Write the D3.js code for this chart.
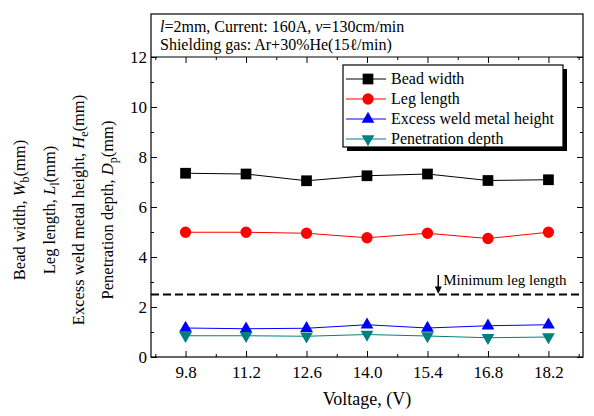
<!DOCTYPE html>
<html>
<head>
<meta charset="utf-8">
<script src="https://cdn.jsdelivr.net/npm/d3@7/dist/d3.min.js"></script>
<style>
html,body{margin:0;padding:0;background:#fff;}
svg{display:block;font-family:"Liberation Serif","Times New Roman",serif;}
</style>
</head>
<body>
<svg id="chart" width="594" height="416"></svg>
<script>
const voltages = [9.8, 11.2, 12.6, 14.0, 15.4, 16.8, 18.2];
const beadWidth = [7.35, 7.32, 7.05, 7.25, 7.32, 7.06, 7.09];
const legLength = [4.99, 4.99, 4.95, 4.77, 4.95, 4.74, 4.99];
const excessHeight = [1.16, 1.13, 1.15, 1.29, 1.16, 1.25, 1.29];
const penetration = [0.85, 0.85, 0.83, 0.90, 0.84, 0.77, 0.80];
const minLegLength = 2.5;
const xTicks = [9.8, 11.2, 12.6, 14.0, 15.4, 16.8, 18.2];
const xMinorTicks = [9.1, 10.5, 11.9, 13.3, 14.7, 16.1, 17.5, 18.9];
const yTicks = [0, 2, 4, 6, 8, 10, 12];
const yMinorTicks = [1, 3, 5, 7, 9, 11];
const seriesNames = ["Bead width", "Leg length", "Excess weld metal height", "Penetration depth"];

const svg = d3.select("#chart");
const L = 151, R = 583, T = 57, B = 357, HT = 14;
const x = d3.scaleLinear().domain([9, 19]).range([L, R]);
const y = d3.scaleLinear().domain([0, 12]).range([B, T]);

// header box + frame
svg.append("rect").attr("x", L).attr("y", HT).attr("width", R - L).attr("height", B - HT)
  .attr("fill", "none").attr("stroke", "#000").attr("stroke-width", 1.2);
svg.append("line").attr("x1", L).attr("x2", R).attr("y1", T).attr("y2", T)
  .attr("stroke", "#000").attr("stroke-width", 1.2);

const hdr = svg.append("g").attr("font-size", 16).attr("fill", "#000");
const h1 = hdr.append("text").attr("x", 160).attr("y", 32);
h1.append("tspan").attr("font-style", "italic").text("l");
h1.append("tspan").text("=2mm, Current: 160A, ");
h1.append("tspan").attr("font-style", "italic").text("v");
h1.append("tspan").text("=130cm/min");
hdr.append("text").attr("x", 160).attr("y", 50).text("Shielding gas: Ar+30%He(15\u2113/min)");

// axes
function styleAxis(g) {
  g.select(".domain").remove();
  g.selectAll(".tick line").attr("stroke", "#000").attr("stroke-width", 1);
  g.selectAll(".tick text").attr("font-family", "Liberation Serif").attr("font-size", 17).attr("fill", "#000");
}
svg.append("g").attr("transform", `translate(0,${B})`)
  .call(d3.axisBottom(x).tickValues(xTicks).tickFormat(d3.format(".1f")).tickSize(-6).tickPadding(9)).call(styleAxis);
svg.append("g").attr("transform", `translate(0,${B})`)
  .call(d3.axisBottom(x).tickValues(xMinorTicks).tickFormat("").tickSize(-3)).call(styleAxis);
svg.append("g").attr("transform", `translate(0,${T})`)
  .call(d3.axisTop(x).tickValues(xTicks).tickFormat("").tickSize(-6)).call(styleAxis);
svg.append("g").attr("transform", `translate(0,${T})`)
  .call(d3.axisTop(x).tickValues(xMinorTicks).tickFormat("").tickSize(-3)).call(styleAxis);
svg.append("g").attr("transform", `translate(${L},0)`)
  .call(d3.axisLeft(y).tickValues(yTicks).tickFormat(d3.format("d")).tickSize(-6).tickPadding(4)).call(styleAxis);
svg.append("g").attr("transform", `translate(${L},0)`)
  .call(d3.axisLeft(y).tickValues(yMinorTicks).tickFormat("").tickSize(-3)).call(styleAxis);
svg.append("g").attr("transform", `translate(${R},0)`)
  .call(d3.axisRight(y).tickValues(yTicks).tickFormat("").tickSize(-6)).call(styleAxis);
svg.append("g").attr("transform", `translate(${R},0)`)
  .call(d3.axisRight(y).tickValues(yMinorTicks).tickFormat("").tickSize(-3)).call(styleAxis);

// x label
svg.append("text").attr("x", (L + R) / 2).attr("y", 405).attr("text-anchor", "middle")
  .attr("font-size", 18).text("Voltage, (V)");

// y labels
const yLab = [
  ["Bead width, ", "W", "b"],
  ["Leg length, ", "L", "l"],
  ["Excess weld metal height, ", "H", "e"],
  ["Penetration depth, ", "D", "p"]
];
const yBase = [25, 55, 84, 113];
yLab.forEach((p, i) => {
  const t = svg.append("text").attr("transform", `translate(${yBase[i]},210) rotate(-90)`)
    .attr("text-anchor", "middle").attr("font-size", 16.5);
  t.append("tspan").text(p[0]);
  t.append("tspan").attr("font-style", "italic").text(p[1]);
  t.append("tspan").attr("font-size", 12).attr("dy", 4).text(p[2]);
  t.append("tspan").attr("dy", -4).text("(mm)");
});

// min leg length
svg.append("line").attr("x1", L).attr("x2", R).attr("y1", y(minLegLength)).attr("y2", y(minLegLength))
  .attr("stroke", "#000").attr("stroke-width", 2).attr("stroke-dasharray", "8,4");
const ax = x(15.65);
svg.append("line").attr("x1", ax).attr("x2", ax).attr("y1", 275).attr("y2", y(minLegLength) - 6)
  .attr("stroke", "#000").attr("stroke-width", 1.5);
svg.append("path").attr("d", `M${ax - 3.5},${y(minLegLength) - 8}L${ax + 3.5},${y(minLegLength) - 8}L${ax},${y(minLegLength) - 0.5}Z`).attr("fill", "#000");
svg.append("text").attr("x", ax + 5).attr("y", 285).attr("font-size", 15).text("Minimum leg length");

// series
const series = [
  {vals: beadWidth, color: "#000000", sym: d3.symbolSquare, size: 115, rot: 0},
  {vals: legLength, color: "#ff0000", sym: d3.symbolCircle, size: 100, rot: 0},
  {vals: excessHeight, color: "#0000ff", sym: d3.symbolTriangle, size: 70, rot: 0},
  {vals: penetration, color: "#008080", sym: d3.symbolTriangle, size: 70, rot: 180}
];
const line = d3.line().x(d => x(d[0])).y(d => y(d[1]));
series.forEach(s => {
  const pts = voltages.map((v, i) => [v, s.vals[i]]);
  svg.append("path").attr("d", line(pts)).attr("fill", "none").attr("stroke", s.color).attr("stroke-width", 1);
});
series.forEach(s => {
  const pts = voltages.map((v, i) => [v, s.vals[i]]);
  svg.append("g").selectAll("path").data(pts).join("path")
    .attr("d", d3.symbol().type(s.sym).size(s.size))
    .attr("transform", d => `translate(${x(d[0])},${y(d[1])}) rotate(${s.rot})`)
    .attr("fill", s.color);
});

// legend
const lgX = 343, lgY = 65, lgW = 220, lgH = 82;
svg.append("rect").attr("x", lgX + 4).attr("y", lgY + 4).attr("width", lgW).attr("height", lgH).attr("fill", "#000");
svg.append("rect").attr("x", lgX).attr("y", lgY).attr("width", lgW).attr("height", lgH)
  .attr("fill", "#fff").attr("stroke", "#000").attr("stroke-width", 1.2);
const rowY = [79, 99, 119, 139];
series.forEach((s, i) => {
  svg.append("line").attr("x1", 346).attr("x2", 386).attr("y1", rowY[i]).attr("y2", rowY[i])
    .attr("stroke", s.color).attr("stroke-width", 1);
  svg.append("path").attr("d", d3.symbol().type(s.sym).size(s.size))
    .attr("transform", `translate(368,${rowY[i]}) rotate(${s.rot})`).attr("fill", s.color);
  svg.append("text").attr("x", 391).attr("y", rowY[i] + 5).attr("font-size", 16).text(seriesNames[i]);
});
</script>
</body>
</html>
